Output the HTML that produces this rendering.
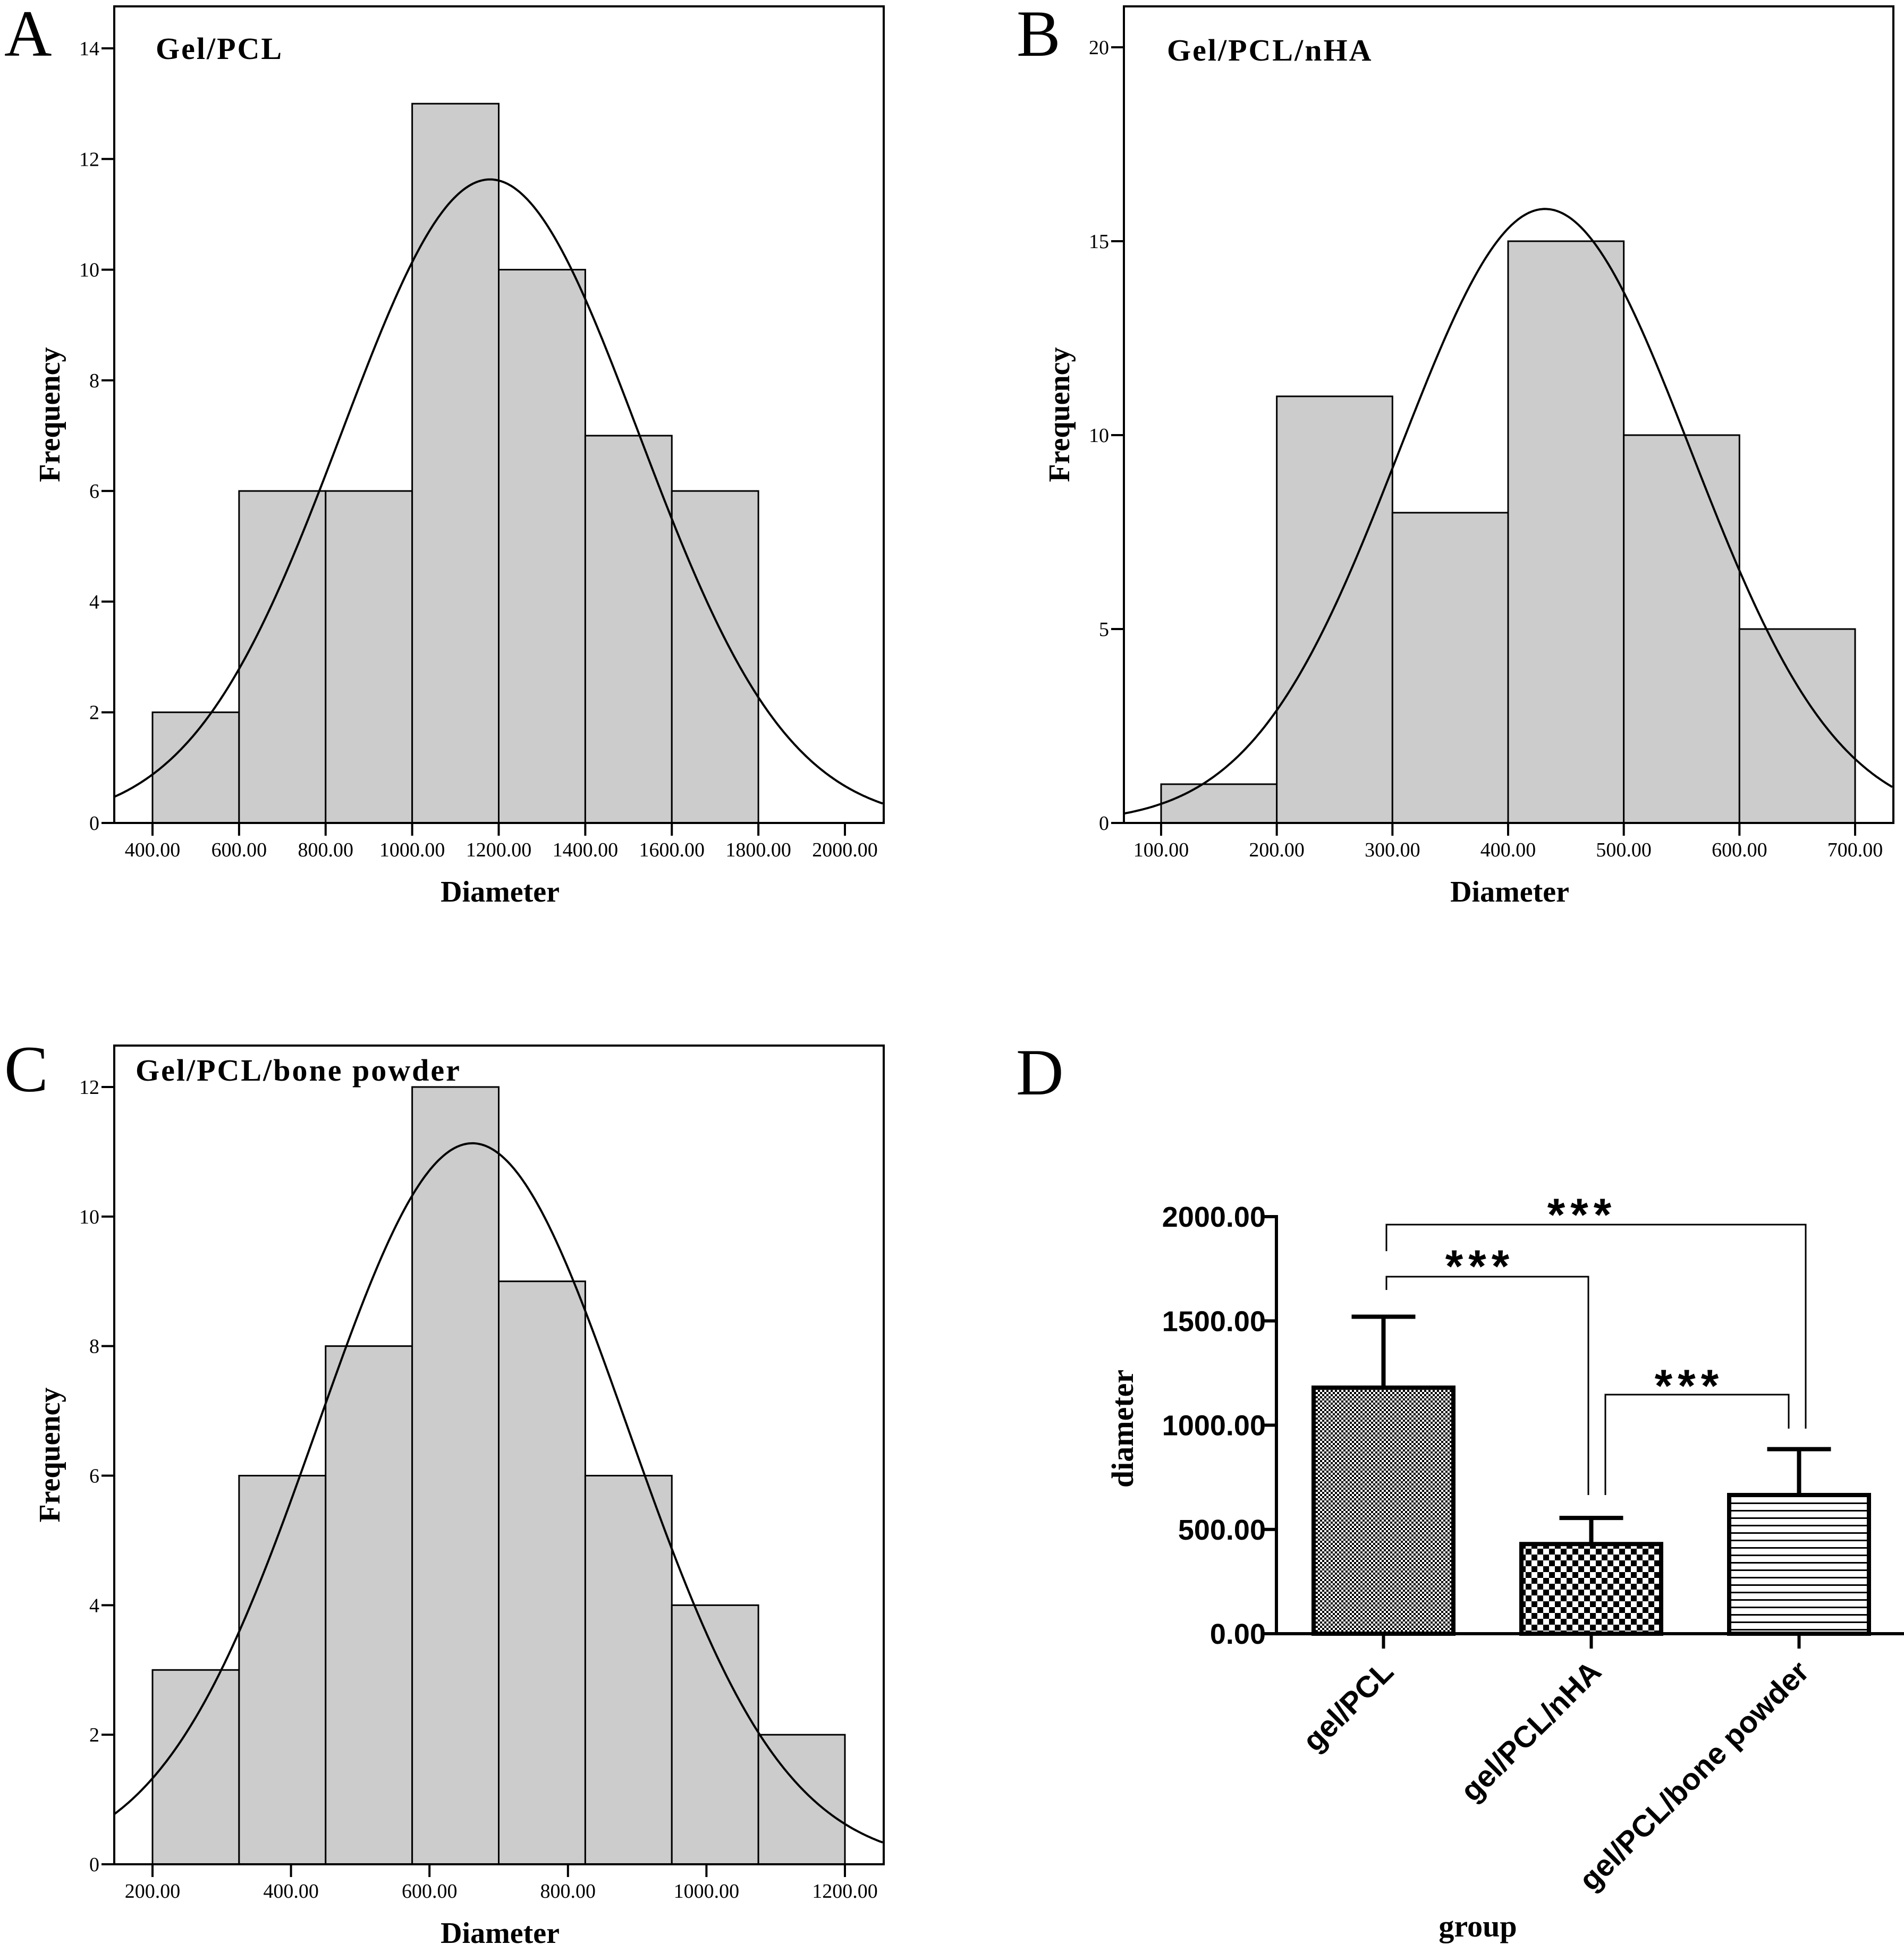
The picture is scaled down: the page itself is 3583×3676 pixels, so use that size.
<!DOCTYPE html>
<html><head><meta charset="utf-8"><style>
html,body{margin:0;padding:0;background:#fff}
svg{display:block}
.tk{font-family:"Liberation Serif",serif;font-size:38px;fill:#000}
.ti{font-family:"Liberation Serif",serif;font-weight:bold;fill:#000}
.ar{font-family:"Liberation Sans",sans-serif;font-weight:bold;fill:#000}
</style></head><body>
<svg id="fig" width="3583" height="3676" viewBox="0 0 3583 3676" xmlns="http://www.w3.org/2000/svg">
<defs>
<pattern id="pFine" width="8" height="8" patternUnits="userSpaceOnUse"><rect width="8" height="8" fill="#fff"/><rect width="4" height="4" fill="#000"/><rect x="4" y="4" width="4" height="4" fill="#000"/></pattern>
<pattern id="pCoarse" width="22" height="22" patternUnits="userSpaceOnUse"><rect width="22" height="22" fill="#fff"/><rect width="11" height="11" fill="#000"/><rect x="11" y="11" width="11" height="11" fill="#000"/></pattern>
<pattern id="pLines" width="20" height="14" patternUnits="userSpaceOnUse"><rect width="20" height="14" fill="#fff"/><rect y="0" width="20" height="3" fill="#000"/></pattern>
</defs>
</svg>
<script>
// Panel A data
const aEdges = [400,600,800,1000,1200,1400,1600,1800];
const aCounts = [2,6,6,13,10,7,6];
const aXTicks = [400,600,800,1000,1200,1400,1600,1800,2000];
const aYTicks = [0,2,4,6,8,10,12,14];
const aNorm = [1180,343];
// Panel B data
const bEdges = [100,200,300,400,500,600,700];
const bCounts = [1,11,8,15,10,5];
const bXTicks = [100,200,300,400,500,600,700];
const bYTicks = [0,5,10,15,20];
const bNorm = [432,126];
// Panel C data
const cEdges = [200,325,450,575,700,825,950,1075,1200];
const cCounts = [3,6,8,12,9,6,4,2];
const cXTicks = [200,400,600,800,1000,1200];
const cYTicks = [0,2,4,6,8,10,12];
const cNorm = [662,224];
// Panel D data
const dGroups = ["gel/PCL","gel/PCL/nHA","gel/PCL/bone powder"];
const dMeans = [1180,430,665];
const dErrs = [340,125,220];
const dYTicks = [0,500,1000,1500,2000];
const dPatterns = ["pFine","pCoarse","pLines"];

const NS="http://www.w3.org/2000/svg";
const svg=document.getElementById('fig');
function mk(tag,attrs,parent){const e=document.createElementNS(NS,tag);for(const k in attrs)e.setAttribute(k,attrs[k]);(parent||svg).appendChild(e);return e;}

function hist(p){
  const g=mk('g',{});
  
  
  const X=v=>p.x0+(v-p.xv0)*(p.x1-p.x0)/(p.xv1-p.xv0);
  const Y=v=>p.yb-v*(p.yb-p.yTopPx)/p.yTopVal;
  const clipId=p.name+'-clip';
  const cp=mk('clipPath',{id:clipId},g);
  mk('rect',{x:p.fl,y:p.ft,width:p.fr-p.fl,height:p.yb-p.ft},cp);
  for(let i=0;i<p.counts.length;i++){
    const r=mk('rect',{x:X(p.edges[i]),y:Y(p.counts[i]),width:X(p.edges[i+1])-X(p.edges[i]),height:p.yb-Y(p.counts[i]),fill:'#cccccc',stroke:'#000','stroke-width':3},g);
    
    
  }
  const N=p.counts.reduce((a,b)=>a+b,0), w=p.edges[1]-p.edges[0];
  let d='';
  for(let px=p.fl;px<=p.fr;px+=3){
    const v=p.xv0+(px-p.x0)*(p.xv1-p.xv0)/(p.x1-p.x0);
    const z=(v-p.norm[0])/p.norm[1];
    const f=N*w/(p.norm[1]*Math.sqrt(2*Math.PI))*Math.exp(-z*z/2);
    d+=(d?'L':'M')+px.toFixed(1)+' '+Y(f).toFixed(1);
  }
  const c=mk('path',{d:d,fill:'none',stroke:'#000','stroke-width':4,'clip-path':'url(#'+clipId+')'},g);
  
  
  const fr=mk('rect',{x:p.fl,y:p.ft,width:p.fr-p.fl,height:p.yb-p.ft,fill:'none',stroke:'#000','stroke-width':4},g);
  
  
  p.xticks.forEach(v=>{
    mk('line',{x1:X(v),x2:X(v),y1:p.yb,y2:p.yb+24,stroke:'#000','stroke-width':4},g);
    const t=mk('text',{x:X(v),y:p.yb+63,'text-anchor':'middle',class:'tk'},g);
    t.textContent=v.toFixed(2);
    
    
  });
  p.yticks.forEach(v=>{
    mk('line',{x1:p.fl-24,x2:p.fl,y1:Y(v),y2:Y(v),stroke:'#000','stroke-width':4},g);
    const t=mk('text',{x:p.fl-28,y:Y(v)+13,'text-anchor':'end',class:'tk'},g);
    t.textContent=v;
    
    
  });
  const tt=mk('text',{x:p.tx,y:p.ty,class:'ti','font-size':58,'letter-spacing':3},g);
  tt.textContent=p.title;
  
  
  const yl=mk('text',{x:0,y:0,class:'ti','font-size':56,'text-anchor':'middle',transform:'translate('+(p.fl-103)+','+((p.ft+p.yb)/2)+') rotate(-90)'},g);
  yl.textContent='Frequency';
  
  
  const xl=mk('text',{x:(p.fl+p.fr)/2+2,y:p.yb+148,class:'ti','font-size':56,'text-anchor':'middle'},g);
  xl.textContent='Diameter';
  
  
  const lt=mk('text',{x:p.lx,y:p.ly,'font-family':'Liberation Serif, serif','font-size':124},g);
  lt.textContent=p.letter;
  
  
}

hist({name:'panel-a',edges:aEdges,counts:aCounts,xticks:aXTicks,yticks:aYTicks,norm:aNorm,
  x0:287,x1:1590,xv0:400,xv1:2000,yb:1549,yTopPx:91,yTopVal:14,ft:12,fl:215,fr:1663,
  title:'Gel/PCL',tx:293,ty:111,letter:'A',lx:8,ly:105});
hist({name:'panel-b',edges:bEdges,counts:bCounts,xticks:bXTicks,yticks:bYTicks,norm:bNorm,
  x0:2185,x1:3491,xv0:100,xv1:700,yb:1549,yTopPx:89,yTopVal:20,ft:12,fl:2115,fr:3563,
  title:'Gel/PCL/nHA',tx:2196,ty:114,letter:'B',lx:1913,ly:105});
hist({name:'panel-c',edges:cEdges,counts:cCounts,xticks:cXTicks,yticks:cYTicks,norm:cNorm,
  x0:287,x1:1590,xv0:200,xv1:1200,yb:3509,yTopPx:2046,yTopVal:12,ft:1968,fl:215,fr:1663,
  title:'Gel/PCL/bone powder',tx:255,ty:2034,letter:'C',lx:8,ly:2054});

// Panel D
(function(){
  const g=mk('g',{});
  
  
  const ax=2402, yb=3075, yt=2290, vmax=2000;
  const Y=v=>yb-v*(yb-yt)/vmax;
  const bx0=2472, step=391, bw=263;
  const BX=i=>bx0+i*step;
  dMeans.forEach((m,i)=>{
    const x=BX(i), cx=x+bw/2;
    const e=mk('line',{x1:cx,x2:cx,y1:Y(m),y2:Y(m+dErrs[i]),stroke:'#000','stroke-width':8},g);
    
    
    const cap=mk('line',{x1:cx-60,x2:cx+60,y1:Y(m+dErrs[i]),y2:Y(m+dErrs[i]),stroke:'#000','stroke-width':8},g);
    
    
    const r=mk('rect',{x:x,y:Y(m),width:bw,height:yb-Y(m),fill:'url(#'+dPatterns[i]+')',stroke:'#000','stroke-width':8},g);
    
    
    mk('line',{x1:cx,x2:cx,y1:yb,y2:yb+28,stroke:'#000','stroke-width':6},g);
    const t=mk('text',{x:0,y:0,class:'ar','font-size':57,'text-anchor':'end',transform:'translate('+(cx+22)+','+(yb+75)+') rotate(-45)'},g);
    t.textContent=dGroups[i];
    
    
  });
  const yaxis=mk('line',{x1:ax,x2:ax,y1:yt-3,y2:yb+3,stroke:'#000','stroke-width':6},g);
  
  
  const xaxis=mk('line',{x1:ax-3,x2:3583,y1:yb,y2:yb,stroke:'#000','stroke-width':6},g);
  
  
  dYTicks.forEach(v=>{
    mk('line',{x1:ax-28,x2:ax,y1:Y(v),y2:Y(v),stroke:'#000','stroke-width':6},g);
    const t=mk('text',{x:ax-20,y:Y(v)+19,'text-anchor':'end',class:'ar','font-size':54},g);
    t.textContent=v.toFixed(2);
    
    
  });
  const yl=mk('text',{x:0,y:0,class:'ti','font-size':58,'text-anchor':'middle',transform:'translate(2132,2689) rotate(-90)'},g);
  yl.textContent='diameter';
  
  
  const xl=mk('text',{x:2781,y:3645,class:'ti','font-size':58,'text-anchor':'middle'},g);
  xl.textContent='group';
  
  
  const lt=mk('text',{x:1912,y:2060,'font-family':'Liberation Serif, serif','font-size':124},g);
  lt.textContent='D';
  
  
  const br=[[2609,3398,2305,2355,2689,2977,2266],[2609,2989,2403,2428,2814,2785,2363],[3021,3366,2625,2814,2689,3179,2588]];
  br.forEach(b=>{
    const p=mk('path',{d:'M'+b[0]+' '+b[3]+'V'+b[2]+'H'+b[1]+'V'+b[4],fill:'none',stroke:'#000','stroke-width':3},g);
    
    
    const s=mk('text',{x:b[5],y:b[6]+50,'text-anchor':'middle',class:'ar','font-size':86,'letter-spacing':10},g);
    s.textContent='***';
    
    
  });
})();
</script>
</body></html>
